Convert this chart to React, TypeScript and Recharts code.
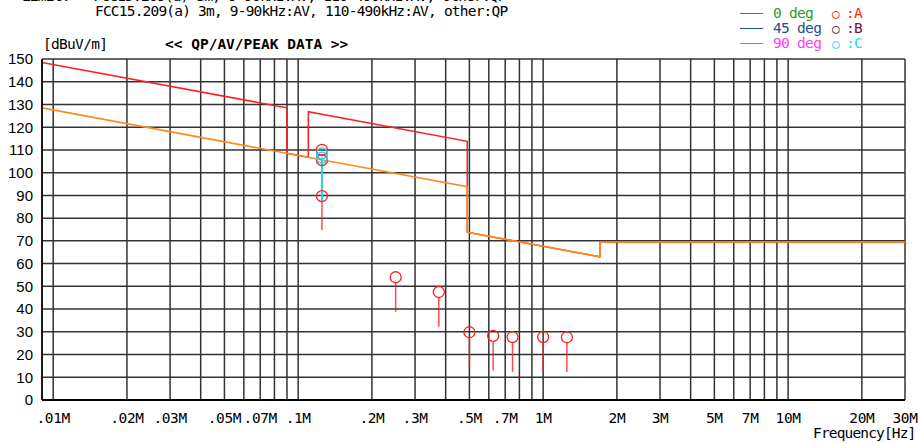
import React from "react";
import { ComposedChart, Line, Scatter, XAxis, YAxis, CartesianGrid } from "recharts";

// FCC15.209(a) limit lines (MHz, dBuV/m)
const peakLimitFreq = [0.009, 0.09, 0.09, 0.11, 0.11, 0.49, 0.49, 1.705, 1.705, 30];
const peakLimitLevel = [148.5, 128.5, 108.5, 106.8, 126.8, 113.8, 73.8, 63.0, 69.5, 69.5];
const avgLimitFreq = [0.009, 0.49, 0.49, 1.705, 1.705, 30];
const avgLimitLevel = [128.5, 93.8, 73.8, 63.0, 69.5, 69.5];

// measured points, 0 deg (A)
const markAFreq = [0.125, 0.125, 0.125, 0.25, 0.375, 0.5, 0.625, 0.75, 1.0, 1.25];
const markALevel = [110.0, 105.5, 89.7, 54.0, 47.5, 29.8, 28.2, 27.7, 27.7, 27.6];
// 90 deg (C)
const markCFreq = [0.125, 0.125];
const markCLevel = [108.5, 106.6];

// vertical stems below the markers
const stemAFreq = [0.125, 0.25, 0.375, 0.5, 0.625, 0.75, 1.0, 1.25];
const stemATop = [89.7, 54.0, 47.5, 29.8, 28.2, 27.7, 27.7, 27.6];
const stemABottom = [74.8, 38.8, 32.2, 14.4, 12.9, 12.4, 12.4, 12.3];
const stemCFreq = [0.125];
const stemCTop = [106.6];
const stemCBottom = [89.7];

const gridFreqs = [
  0.01, 0.02, 0.03, 0.04, 0.05, 0.06, 0.07, 0.08, 0.09,
  0.1, 0.2, 0.3, 0.4, 0.5, 0.6, 0.7, 0.8, 0.9,
  1, 2, 3, 4, 5, 6, 7, 8, 9,
  10, 20, 30,
];
const labeledFreqs = [0.01, 0.02, 0.03, 0.05, 0.07, 0.1, 0.2, 0.3, 0.5, 0.7, 1, 2, 3, 5, 7, 10, 20, 30];
const freqLabels = [".01M", ".02M", ".03M", ".05M", ".07M", ".1M", ".2M", ".3M", ".5M", ".7M", "1M", "2M", "3M", "5M", "7M", "10M", "20M", "30M"];
const levelTicks = [0, 10, 20, 30, 40, 50, 60, 70, 80, 90, 100, 110, 120, 130, 140, 150];

const MONO = "'DejaVu Sans Mono', 'Liberation Mono', monospace";
const RED = "#ff1f1f";
const ORANGE = "#ff8a1c";
const CYAN = "#22d3f0";
const MARK_R = 5.5;
const STEM_GAP = 2.4; // marker radius in dB units

const toPoints = (f: number[], v: number[]) => f.map((x, i) => ({ f: x, v: v[i] }));

const monoText: React.CSSProperties = {
  position: "absolute",
  fontFamily: MONO,
  fontSize: 14.5,
  lineHeight: "15px",
  letterSpacing: -0.7,
  whiteSpace: "pre",
  color: "#000",
};

function FreqTick({ x, y, payload }: any) {
  const idx = labeledFreqs.indexOf(payload.value);
  if (idx < 0) return null;
  return (
    <text x={x} y={y + 21} textAnchor="middle" fontFamily={MONO} fontSize={14.5} letterSpacing={-0.4} fill="#000">
      {freqLabels[idx]}
    </text>
  );
}

const ring = (color: string) => (props: any) =>
  <circle cx={props.cx} cy={props.cy} r={MARK_R} fill="none" stroke={color} strokeWidth={1.3} />;

function LegendRow({ top, color, label, mark, markColor }: { top: number; color: string; label: string; mark: string; markColor: string }) {
  return (
    <div style={{ position: "absolute", left: 740, top, width: 170, height: 15 }}>
      <div style={{ position: "absolute", left: 0, top: 7, width: 23, height: 0, borderTop: `1.5px solid ${color}` }} />
      <span style={{ ...monoText, left: 33, top: 0, color }}>{label}</span>
      <span style={{ ...monoText, left: 92, top: 0, fontSize: 12.5, letterSpacing: 1, color: markColor }}>○</span>
      <span style={{ ...monoText, left: 106, top: 0, color: markColor }}>{mark}</span>
    </div>
  );
}

export default function App() {
  const peakLimit = toPoints(peakLimitFreq, peakLimitLevel);
  const avgLimit = toPoints(avgLimitFreq, avgLimitLevel);
  const marksA = toPoints(markAFreq, markALevel);
  const marksC = toPoints(markCFreq, markCLevel);

  return (
    <div style={{ position: "absolute", left: 0, top: 0, width: 920, height: 443, background: "#fff", overflow: "hidden" }}>
      <div style={{ ...monoText, left: 22, top: -11, letterSpacing: -0.8 }}>
        {"Limit:   FCC15.209(a) 3m, 9-90kHz:AV, 110-490kHz:AV, other:QP"}
      </div>
      <div style={{ ...monoText, left: 95, top: 4, letterSpacing: -0.8 }}>
        FCC15.209(a) 3m, 9-90kHz:AV, 110-490kHz:AV, other:QP
      </div>
      <div style={{ ...monoText, left: 43, top: 37 }}>[dBuV/m]</div>
      <div style={{ ...monoText, left: 165, top: 37, fontWeight: "bold", letterSpacing: 0 }}>
        {"<< QP/AV/PEAK DATA >>"}
      </div>
      <div style={{ ...monoText, left: 813, top: 426, letterSpacing: -0.85 }}>Frequency[Hz]</div>

      <LegendRow top={6} color="#2a9a2a" label="0 deg" mark=":A" markColor="#ff2020" />
      <LegendRow top={21} color="#1f4e8c" label="45 deg" mark=":B" markColor="#7a1040" />
      <LegendRow top={36} color="#ff3cff" label="90 deg" mark=":C" markColor="#22d8f5" />

      <ComposedChart width={920} height={443} margin={{ top: 59, right: 15, bottom: 0, left: 0 }} style={{ position: "absolute", left: 0, top: 0 }}>
        <CartesianGrid stroke="#333" strokeWidth={1.5} />
        <XAxis
          dataKey="f"
          type="number"
          scale="log"
          domain={[0.009, 30]}
          ticks={gridFreqs}
          allowDataOverflow
          height={43}
          tickSize={0}
          tickLine={false}
          axisLine={{ stroke: "#000", strokeWidth: 2 }}
          tick={<FreqTick />}
          interval={0}
        />
        <YAxis
          dataKey="v"
          type="number"
          domain={[0, 150]}
          ticks={levelTicks}
          width={42}
          tickSize={0}
          tickMargin={9}
          tickLine={false}
          axisLine={{ stroke: "#000", strokeWidth: 1.5 }}
          tick={{ fill: "#000", fontSize: 15, fontFamily: "'Liberation Sans', Arial, sans-serif" }}
          interval={0}
        />
        <Line data={peakLimit} dataKey="v" stroke={RED} strokeWidth={1.5} dot={false} isAnimationActive={false} type="linear" />
        <Line data={avgLimit} dataKey="v" stroke={ORANGE} strokeWidth={1.6} dot={false} isAnimationActive={false} type="linear" />
        {stemCFreq.map((f, i) => (
          <Line
            key={"sc" + i}
            data={[{ f, v: stemCTop[i] }, { f, v: stemCBottom[i] - STEM_GAP }]}
            dataKey="v"
            stroke={CYAN}
            strokeWidth={2}
            dot={false}
            isAnimationActive={false}
          />
        ))}
        {stemAFreq.map((f, i) => (
          <Line
            key={"sa" + i}
            data={[{ f, v: stemATop[i] - STEM_GAP }, { f, v: stemABottom[i] }]}
            dataKey="v"
            stroke={RED}
            strokeOpacity={0.8}
            strokeWidth={1.5}
            dot={false}
            isAnimationActive={false}
          />
        ))}
        <Scatter data={marksA} dataKey="v" shape={ring(RED)} isAnimationActive={false} />
        <Scatter data={marksC} dataKey="v" shape={ring(CYAN)} isAnimationActive={false} />
      </ComposedChart>
    </div>
  );
}
